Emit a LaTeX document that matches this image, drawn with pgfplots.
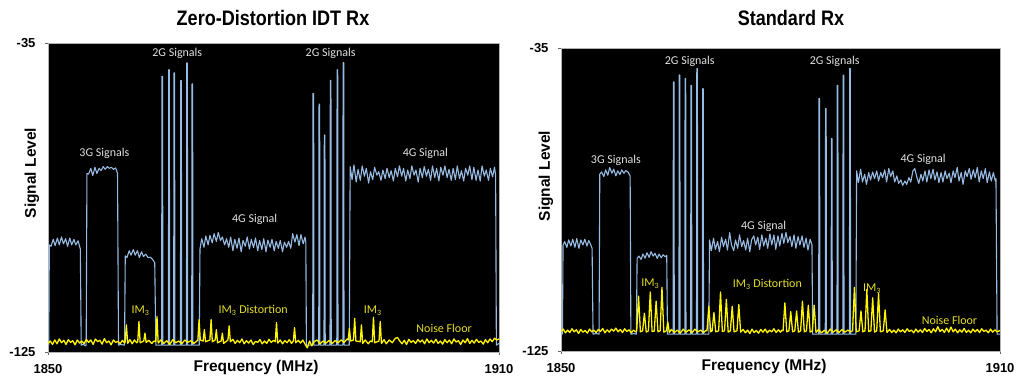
\documentclass[border=0pt]{standalone}
\usepackage{pgfplots}
\pgfplotsset{compat=1.18}
\usepackage{fontspec}
\setmainfont{Liberation Sans}
\newfontfamily\condfont{Liberation Sans}[FakeStretch=0.86]
\newfontfamily\calib{Carlito}
\definecolor{sigblue}{RGB}{150,186,226}
\definecolor{imyel}{RGB}{255,245,0}
\definecolor{labyel}{RGB}{230,222,40}
\definecolor{labgray}{RGB}{225,225,225}
\tikzset{
  glab/.style={font=\calib\fontsize{12}{12}\selectfont, text=labgray},
  ylab/.style={font=\calib\fontsize{12}{12}\selectfont, text=labyel},
}
\pgfplotsset{
  spec/.style={
    anchor=south west, scale only axis,
    xmin=1850, xmax=1910, ymin=-125, ymax=-35,
    xtick={1850,1910}, xticklabels={1850,1910},
    ytick={-125,-35}, yticklabels={-125,-35},
    axis background/.style={fill=black},
    axis line style={draw=gray!60, line width=0.8pt},
    tick align=outside, tick pos=left, major tick length=3pt,
    tick style={draw=gray!80!black, line width=0.8pt},
    ticklabel style={font=\bfseries\fontsize{13}{13}\selectfont},
    xticklabel style={yshift=-6pt},
    yticklabel style={xshift=-6pt},
    clip=false,
  },
  blueline/.style={color=sigblue, line width=1.1pt, no markers, line join=round},
  yelline/.style={color=imyel, line width=1.3pt, no markers, line join=round},
}
\begin{document}
\begin{tikzpicture}
\path[use as bounding box] (0pt,0pt) rectangle (1025pt,-375pt);
% ---------------- Left panel ----------------
\begin{axis}[spec, at={(48pt,-352pt)}, width=451pt, height=309pt]
\addplot[blueline] coordinates {
(1850,-123) (1850.1,-123) (1850.18,-93.8) (1850.4,-94.2) (1850.7,-92.2) (1850.95,-94) (1851.25,-91.8) (1851.5,-93.8) (1851.8,-91.5) (1852.05,-93.5) (1852.35,-92) (1852.6,-94.2) (1852.9,-91.8) (1853.15,-93.8) (1853.45,-92.2) (1853.7,-93.8) (1854.0,-92.6) (1854.3,-95) (1854.42,-123)
(1854.7,-122.8) (1855.0,-123.2) (1855.08,-123) (1855.18,-73) (1855.4,-73.2) (1855.7,-71.5) (1855.95,-73.6) (1856.25,-71.2) (1856.5,-73) (1856.8,-71.5) (1857.05,-72.2) (1857.35,-71) (1857.6,-71.8) (1857.9,-71.0) (1858.15,-71.5) (1858.45,-71.2) (1858.7,-71.8) (1859.0,-71.4) (1859.25,-73) (1859.38,-123)
(1859.7,-122.8) (1860.1,-123) (1860.18,-123) (1860.28,-97) (1860.5,-97.5) (1860.8,-95.5) (1861.05,-96.8) (1861.35,-95.2) (1861.6,-96.8) (1861.9,-95.5) (1862.15,-97.5) (1862.45,-95.8) (1862.7,-97.2) (1863.0,-96.5) (1863.3,-97.5) (1863.6,-97.4) (1863.9,-98) (1864.2,-99) (1864.35,-123)
(1865.12,-123) (1865.16,-44.7) (1865.24,-44.7) (1865.28,-123)
(1866.02,-123) (1866.06,-42.8) (1866.14,-42.8) (1866.18,-123)
(1866.72,-123) (1866.76,-43.7) (1866.84,-43.7) (1866.88,-123)
(1867.62,-123) (1867.66,-45.9) (1867.74,-45.9) (1867.78,-123)
(1868.42,-123) (1868.46,-40.8) (1868.54,-40.8) (1868.58,-123)
(1869.12,-123) (1869.16,-46.9) (1869.24,-46.9) (1869.28,-123)
(1870.12,-123) (1870.22,-95) (1870.45,-92) (1870.75,-94.5) (1871.0,-91.2) (1871.3,-93.8) (1871.55,-91) (1871.85,-93.2) (1872.1,-90.5) (1872.4,-92.8) (1872.65,-90.2) (1872.95,-92.5) (1873.2,-91.5) (1873.5,-93.8) (1873.75,-92) (1874.05,-94.5) (1874.3,-91.5) (1874.6,-95.5) (1874.85,-92.2) (1875.15,-94.8) (1875.4,-91.8) (1875.7,-95.8) (1875.95,-92.5) (1876.25,-94.2) (1876.5,-91.5) (1876.8,-95) (1877.05,-92.2) (1877.35,-94.6) (1877.6,-91.8) (1877.9,-95.5) (1878.15,-92.5) (1878.45,-95.2) (1878.7,-92) (1879.0,-95.8) (1879.25,-92.4) (1879.55,-94.5) (1879.8,-92.2) (1880.1,-95.5) (1880.35,-92.8) (1880.65,-94.8) (1880.9,-92.5) (1881.2,-95.8) (1881.45,-93) (1881.75,-94.5) (1882.0,-92.8) (1882.3,-94.8) (1882.55,-90.5) (1882.85,-93) (1883.1,-90.8) (1883.4,-94) (1883.65,-90.8) (1883.95,-93.5) (1884.2,-91.5) (1884.3,-93) (1884.38,-123)
(1885.22,-123) (1885.26,-49.7) (1885.34,-49.7) (1885.38,-123)
(1886.02,-123) (1886.06,-52.8) (1886.14,-52.8) (1886.18,-123)
(1886.72,-123) (1886.76,-61.8) (1886.84,-61.8) (1886.88,-123)
(1887.52,-123) (1887.56,-45.9) (1887.64,-45.9) (1887.68,-123)
(1888.42,-123) (1888.46,-42.8) (1888.54,-42.8) (1888.58,-123)
(1889.22,-123) (1889.26,-40.7) (1889.34,-40.7) (1889.38,-123)
(1890.08,-123) (1890.2,-71) (1890.45,-74.8) (1890.7,-70.5) (1891.0,-75.5) (1891.25,-71.8) (1891.55,-75) (1891.8,-70.8) (1892.1,-73.8) (1892.35,-71.5) (1892.65,-75.8) (1892.9,-72.5) (1893.2,-74.8) (1893.45,-71.2) (1893.75,-73.5) (1894.0,-72.5) (1894.3,-75) (1894.55,-72) (1894.85,-74.5) (1895.1,-71.5) (1895.4,-74.2) (1895.65,-72.2) (1895.95,-75.2) (1896.2,-71.5) (1896.5,-74) (1896.75,-70.8) (1897.05,-73.8) (1897.3,-71.5) (1897.6,-75.2) (1897.85,-72) (1898.15,-74.5) (1898.4,-70.8) (1898.7,-73.5) (1898.95,-72) (1899.25,-75.5) (1899.5,-71.5) (1899.8,-74.2) (1900.05,-71) (1900.35,-73.8) (1900.6,-71.8) (1900.9,-75) (1901.15,-70.8) (1901.45,-74.2) (1901.7,-71.5) (1902.0,-75.2) (1902.25,-71.2) (1902.55,-73.5) (1902.8,-70.8) (1903.1,-74.2) (1903.35,-71.8) (1903.65,-75) (1903.9,-71.5) (1904.2,-74.8) (1904.45,-70.8) (1904.75,-74.5) (1905.0,-72.2) (1905.3,-75.2) (1905.55,-71.5) (1905.85,-73.5) (1906.1,-70.8) (1906.4,-74.8) (1906.65,-71.2) (1906.95,-75) (1907.2,-72) (1907.5,-75.2) (1907.75,-70.8) (1908.05,-73.8) (1908.3,-72) (1908.6,-75) (1908.85,-71.5) (1909.15,-74) (1909.4,-71.2) (1909.55,-73.5) (1909.65,-123) (1910,-122.5)
};
\addplot[yelline] coordinates {
(1850,-122.5) (1850.3,-121.8) (1850.6,-122.8) (1850.9,-121.5) (1851.2,-122.6) (1851.5,-121.2) (1851.8,-122.3) (1852.1,-121.6) (1852.4,-122.8) (1852.7,-121.4) (1853.0,-122.2) (1853.3,-121.7) (1853.6,-122.9) (1853.9,-121.5) (1854.2,-122.4) (1854.5,-121.8) (1854.8,-122.6) (1855.1,-121.3) (1855.4,-122.2) (1855.7,-121.5) (1856.0,-122.8) (1856.3,-121.2) (1856.6,-122) (1856.9,-121.6) (1857.2,-122.7) (1857.5,-121.1) (1857.8,-122.3) (1858.1,-121.8) (1858.4,-122.9) (1858.7,-121.5) (1859.0,-122.2) (1859.3,-121.9) (1859.6,-122.6) (1859.9,-121.6) (1860.2,-122.4)
(1860.27,-122) (1860.43,-117.1) (1860.6,-122.5)
(1860.9,-121.4) (1861.2,-122.6) (1861.5,-121.5) (1861.8,-122.3)
(1861.94,-122) (1862.1,-116.1) (1862.26,-122.3)
(1862.74,-121.8) (1862.9,-119.5) (1863.06,-122.2)
(1863.4,-121.6) (1863.8,-122.5) (1864.1,-121.8)
(1864.34,-122) (1864.5,-114.7) (1864.66,-122.4)
(1865.0,-121.5) (1865.4,-122.5) (1865.8,-121.7) (1866.2,-122.8) (1866.6,-121.4) (1867.0,-122.3) (1867.4,-121.8) (1867.8,-122.6) (1868.2,-121.5) (1868.6,-122.2) (1869.0,-121.7) (1869.4,-122.5) (1869.8,-121.8)
(1869.94,-121.5) (1870.1,-115.6) (1870.26,-121.5)
(1870.64,-121.8) (1870.8,-118.5) (1870.96,-122)
(1871.54,-121.5) (1871.7,-115.6) (1871.86,-122)
(1872.24,-121.5) (1872.4,-118.5) (1872.56,-122.3)
(1873.04,-121.8) (1873.2,-119.5) (1873.36,-122.5)
(1873.94,-121.5) (1874.1,-117.4) (1874.26,-122)
(1874.6,-121.3) (1874.9,-122.5) (1875.2,-121.6) (1875.5,-122.3) (1875.8,-121.2) (1876.1,-122.6) (1876.4,-121.7) (1876.7,-122.4) (1877.0,-121.5) (1877.3,-122.8) (1877.6,-121.9) (1877.9,-122.2) (1878.2,-121.4) (1878.5,-122.6) (1878.8,-121.8) (1879.1,-122.5) (1879.4,-121.3) (1879.7,-122.2) (1880.0,-121.6)
(1880.24,-122) (1880.4,-116.4) (1880.56,-122.4)
(1880.9,-121.5) (1881.2,-122.6) (1881.5,-121.7) (1881.8,-122.3) (1882.1,-121.4) (1882.4,-122.5)
(1882.64,-121.8) (1882.8,-117.9) (1882.96,-122.3)
(1883.3,-121.6) (1883.6,-122.4) (1883.9,-121.5) (1884.2,-122.7) (1884.5,-123.8) (1884.8,-121.8) (1885.1,-123.2) (1885.4,-122) (1885.8,-121.5) (1886.2,-122.6) (1886.6,-121.8) (1887.0,-122.4) (1887.4,-121.6) (1887.8,-122.5) (1888.2,-121.7) (1888.6,-122.3) (1889.0,-121.5) (1889.4,-122.2) (1889.8,-121.2)
(1889.94,-121.5) (1890.1,-118.1) (1890.26,-121.8)
(1890.64,-121.5) (1890.8,-115.2) (1890.96,-121.8)
(1891.54,-122) (1891.7,-117.1) (1891.86,-122.5)
(1892.2,-121.5) (1892.6,-122.6) (1892.9,-121.8)
(1893.14,-122) (1893.3,-114.9) (1893.46,-122.3)
(1894.04,-121.8) (1894.2,-116.1) (1894.36,-122.5)
(1894.7,-121.4) (1895.0,-122.6) (1895.4,-121.5) (1895.8,-122.3) (1896.2,-121) (1896.5,-120.8) (1896.8,-121.8) (1897.1,-122.6) (1897.4,-121.6) (1897.7,-122.8) (1898.0,-121.3) (1898.3,-122.2) (1898.6,-121.7) (1898.9,-122.5) (1899.2,-121.4) (1899.5,-122.1) (1899.8,-121.5) (1900.1,-122.6) (1900.4,-121.2) (1900.7,-122.3) (1901.0,-121.6) (1901.3,-122.4) (1901.6,-121.3) (1901.9,-122.5) (1902.2,-121.8) (1902.5,-122.7) (1902.8,-121.4) (1903.1,-122.3) (1903.4,-121.5) (1903.7,-122.6) (1904.0,-121.2) (1904.3,-122.1) (1904.6,-121.7) (1904.9,-122.8) (1905.2,-121.5) (1905.5,-122.3) (1905.8,-121.1) (1906.1,-122.5) (1906.4,-121.6) (1906.7,-122.4) (1907.0,-121.3) (1907.3,-122.2) (1907.6,-121.8) (1907.9,-122.7) (1908.2,-121.4) (1908.5,-122.3) (1908.8,-121.2) (1909.1,-122) (1909.4,-121) (1909.7,-121.5) (1910,-121.2)
};
\node[glab] at (axis cs:1857.5,-67.2) {3G Signals};
\node[glab] at (axis cs:1867.2,-38.1) {2G Signals};
\node[glab] at (axis cs:1887.6,-38.1) {2G Signals};
\node[glab] at (axis cs:1877.5,-86.5) {4G Signal};
\node[glab] at (axis cs:1900.2,-67.2) {4G Signal};
\node[ylab] at (axis cs:1862.3,-112.9) {IM\textsubscript{3}};
\node[ylab] at (axis cs:1877.3,-112.9) {IM\textsubscript{3} Distortion};
\node[ylab] at (axis cs:1893.2,-112.9) {IM\textsubscript{3}};
\node[ylab] at (axis cs:1902.7,-118.2) {Noise Floor};
\end{axis}
% ---------------- Right panel ----------------
\begin{axis}[spec, at={(561pt,-351pt)}, width=439pt, height=303pt]
\addplot[blueline] coordinates {
(1850,-120) (1850.2,-120) (1850.28,-93.5) (1850.5,-92.5) (1850.8,-94.2) (1851.05,-92) (1851.35,-93.8) (1851.6,-91.8) (1851.9,-94.2) (1852.15,-91.6) (1852.45,-94.5) (1852.7,-92) (1853.0,-93.5) (1853.25,-91.8) (1853.55,-93.8) (1853.8,-92.2) (1854.05,-93.4) (1854.25,-94.5) (1854.38,-120)
(1854.8,-119.8) (1855.2,-120) (1855.3,-72.5) (1855.55,-71.8) (1855.85,-73.2) (1856.1,-71.2) (1856.4,-72.8) (1856.65,-70.5) (1856.95,-72.2) (1857.2,-71) (1857.5,-73) (1857.75,-71.5) (1858.05,-72.6) (1858.3,-71.2) (1858.6,-72.2) (1858.85,-71.4) (1859.15,-71.8) (1859.45,-73) (1859.55,-120)
(1860.0,-119.8) (1860.3,-120) (1860.4,-97.5) (1860.65,-96.8) (1860.95,-97.8) (1861.2,-96.2) (1861.5,-97.4) (1861.75,-95.8) (1862.05,-97.2) (1862.3,-95.5) (1862.6,-96.8) (1862.85,-96) (1863.15,-97.5) (1863.4,-96.2) (1863.7,-97.3) (1863.95,-96.4) (1864.25,-97) (1864.45,-96.6) (1864.55,-120)
(1865.32,-120) (1865.36,-45.1) (1865.44,-45.1) (1865.48,-120)
(1866.12,-120) (1866.16,-43.0) (1866.24,-43.0) (1866.28,-120)
(1866.92,-120) (1866.96,-44.1) (1867.04,-44.1) (1867.08,-120)
(1867.72,-120) (1867.76,-46.1) (1867.84,-46.1) (1867.88,-120)
(1868.52,-120) (1868.56,-41.1) (1868.64,-41.1) (1868.68,-120)
(1869.32,-120) (1869.36,-47.1) (1869.44,-47.1) (1869.48,-120)
(1870.2,-120) (1870.3,-92) (1870.55,-95.2) (1870.85,-91.5) (1871.1,-94.8) (1871.4,-92.5) (1871.65,-95.5) (1871.95,-91.2) (1872.2,-94) (1872.5,-91.8) (1872.75,-95) (1873.05,-89.8) (1873.3,-93.5) (1873.6,-95.2) (1873.85,-92) (1874.15,-94.5) (1874.4,-90.5) (1874.7,-94) (1874.95,-92.2) (1875.25,-95) (1875.5,-91.5) (1875.8,-95.5) (1876.05,-92) (1876.35,-90.8) (1876.6,-93.5) (1876.9,-91.2) (1877.15,-94.8) (1877.45,-90.5) (1877.7,-93.8) (1878.0,-91.5) (1878.25,-94.5) (1878.55,-90.2) (1878.8,-93.5) (1879.1,-90.5) (1879.35,-94.8) (1879.65,-90.8) (1879.9,-93.8) (1880.2,-90) (1880.45,-93) (1880.75,-89.8) (1881.0,-92.8) (1881.3,-91) (1881.55,-94) (1881.85,-90.5) (1882.1,-94.5) (1882.4,-91) (1882.65,-93.5) (1882.95,-90.8) (1883.2,-94.2) (1883.5,-91.5) (1883.75,-95) (1884.05,-91.8) (1884.3,-93.5) (1884.4,-120)
(1885.22,-120) (1885.26,-50.0) (1885.34,-50.0) (1885.38,-120)
(1886.12,-120) (1886.16,-53.0) (1886.24,-53.0) (1886.28,-120)
(1886.92,-120) (1886.96,-61.9) (1887.04,-61.9) (1887.08,-120)
(1887.72,-120) (1887.76,-46.1) (1887.84,-46.1) (1887.88,-120)
(1888.52,-120) (1888.56,-43.1) (1888.64,-43.1) (1888.68,-120)
(1889.42,-120) (1889.46,-41.1) (1889.54,-41.1) (1889.58,-120)
(1890.3,-120) (1890.4,-71.5) (1890.65,-75) (1890.95,-71) (1891.2,-74.8) (1891.5,-72.5) (1891.75,-75.5) (1892.05,-72) (1892.3,-74.2) (1892.6,-71.8) (1892.85,-73.8) (1893.15,-71.5) (1893.4,-74.5) (1893.7,-72) (1893.95,-73.5) (1894.25,-71.2) (1894.5,-74.8) (1894.8,-70.8) (1895.05,-73.2) (1895.35,-71.5) (1895.6,-74.8) (1895.9,-73) (1896.15,-75.2) (1896.45,-74.2) (1896.7,-75.8) (1897.0,-74.5) (1897.25,-75.5) (1897.55,-73.5) (1897.8,-74.8) (1898.1,-71.5) (1898.35,-70.8) (1898.65,-73.5) (1898.9,-75.2) (1899.2,-72.5) (1899.45,-74.5) (1899.75,-71.5) (1900.0,-74.8) (1900.3,-71.2) (1900.55,-73.8) (1900.85,-71) (1901.1,-74.2) (1901.4,-71.8) (1901.65,-75) (1901.95,-72) (1902.2,-74.8) (1902.5,-71.5) (1902.75,-73.8) (1903.05,-72.2) (1903.3,-75) (1903.6,-71.5) (1903.85,-73.5) (1904.15,-70.5) (1904.4,-74.5) (1904.7,-72) (1904.95,-75.5) (1905.25,-71.5) (1905.5,-73.2) (1905.8,-70.8) (1906.05,-74) (1906.35,-71.2) (1906.6,-73.5) (1906.9,-70.5) (1907.15,-74.8) (1907.45,-71.5) (1907.7,-73.8) (1908.0,-70.8) (1908.25,-75) (1908.55,-71.8) (1908.8,-74.5) (1909.1,-72) (1909.35,-74.5) (1909.45,-73.8) (1909.6,-120) (1910,-120)
};
\addplot[yelline] coordinates {
(1850,-119.2) (1850.3,-118.5) (1850.6,-119.6) (1850.9,-118.8) (1851.2,-119.5) (1851.5,-118.4) (1851.8,-119.3) (1852.1,-118.7) (1852.4,-119.8) (1852.7,-118.6) (1853.0,-119.4) (1853.3,-118.9) (1853.6,-119.7) (1853.9,-118.5) (1854.2,-119.3) (1854.5,-118.8) (1854.8,-119.5) (1855.1,-118.6) (1855.4,-119.2) (1855.7,-118.3) (1856.0,-119.6) (1856.3,-118.7) (1856.6,-119.4) (1856.9,-118.5) (1857.2,-119.1) (1857.5,-118.2) (1857.8,-119.3) (1858.1,-118.6) (1858.4,-119.5) (1858.7,-118.4) (1859.0,-119.2) (1859.3,-118.7) (1859.6,-119.6) (1859.9,-118.8) (1860.2,-119.3)
(1860.35,-119) (1860.6,-108.7) (1860.85,-119.3)
(1861.15,-119) (1861.4,-113.8) (1861.65,-119.4)
(1861.95,-119) (1862.2,-107.5) (1862.45,-119.2)
(1862.75,-119.1) (1863.0,-110.2) (1863.25,-119.3)
(1863.55,-119) (1863.8,-106.1) (1864.05,-119.4)
(1864.4,-119) (1864.6,-116.4) (1864.8,-119.5)
(1865.1,-118.6) (1865.5,-119.5) (1865.9,-118.8) (1866.3,-119.7) (1866.7,-118.5) (1867.1,-119.4) (1867.5,-118.7) (1867.9,-119.6) (1868.3,-118.5) (1868.7,-119.3) (1869.1,-118.8) (1869.5,-119.5) (1869.8,-118.9)
(1869.95,-119) (1870.2,-111.7) (1870.45,-119.3)
(1870.65,-119) (1870.9,-113.6) (1871.15,-119.3)
(1871.55,-119) (1871.8,-107.5) (1872.05,-119.2)
(1872.35,-119) (1872.6,-109.7) (1872.85,-119.4)
(1873.15,-119) (1873.4,-111.7) (1873.65,-119.3)
(1874.05,-119) (1874.3,-111.2) (1874.55,-119.4)
(1874.9,-118.6) (1875.2,-119.6) (1875.5,-118.8) (1875.8,-119.8) (1876.1,-118.5) (1876.4,-119.5) (1876.7,-118.9) (1877.0,-119.7) (1877.3,-118.6) (1877.6,-119.4) (1877.9,-118.5) (1878.2,-119.6) (1878.5,-118.8) (1878.8,-119.3) (1879.1,-118.4) (1879.4,-119.5) (1879.7,-118.7) (1880.0,-119.4) (1880.2,-118.8)
(1880.35,-119) (1880.6,-110.7) (1880.85,-119.3)
(1881.15,-119) (1881.4,-113.3) (1881.65,-119.3)
(1881.95,-119) (1882.2,-113.1) (1882.45,-119.4)
(1882.75,-119) (1883.0,-110.2) (1883.25,-119.3)
(1883.55,-119) (1883.8,-111.4) (1884.05,-119.4)
(1884.35,-119) (1884.6,-111.4) (1884.85,-119.5)
(1885.2,-118.6) (1885.6,-119.6) (1886.0,-118.8) (1886.4,-119.7) (1886.8,-118.5) (1887.2,-119.4) (1887.6,-118.7) (1888.0,-119.5) (1888.4,-118.6) (1888.8,-119.4) (1889.2,-118.8) (1889.6,-119.3)
(1889.85,-119) (1890.1,-106.1) (1890.35,-119.3)
(1890.75,-119) (1891.0,-113.1) (1891.25,-119.3)
(1891.55,-119) (1891.8,-106.7) (1892.05,-119.2)
(1892.35,-119) (1892.6,-109.2) (1892.85,-119.4)
(1893.15,-119) (1893.4,-107.9) (1893.65,-119.3)
(1894.05,-119) (1894.3,-112.8) (1894.55,-119.5)
(1894.9,-118.6) (1895.2,-119.5) (1895.5,-118.8) (1895.8,-119.6) (1896.1,-118.5) (1896.4,-119.3) (1896.7,-118.7) (1897.0,-119.5) (1897.3,-118.4) (1897.6,-119.2) (1897.9,-118.8) (1898.2,-119.6) (1898.5,-118.5) (1898.8,-119.4) (1899.1,-118.7) (1899.4,-119.5) (1899.7,-118.3) (1900.0,-119.2) (1900.3,-118.6) (1900.6,-119.6) (1900.9,-118.4) (1901.2,-119.3) (1901.5,-117.8) (1901.8,-119.2) (1902.1,-118.6) (1902.4,-119.5) (1902.7,-118.2) (1903.0,-119.4) (1903.3,-117.9) (1903.6,-119.3) (1903.9,-118.5) (1904.2,-119.6) (1904.5,-118.7) (1904.8,-119.4) (1905.1,-118.3) (1905.4,-119.5) (1905.7,-118.8) (1906.0,-119.6) (1906.3,-118.5) (1906.6,-119.3) (1906.9,-118.6) (1907.2,-119.5) (1907.5,-118.4) (1907.8,-119.2) (1908.1,-118.8) (1908.4,-119.6) (1908.7,-118.5) (1909.0,-119.4) (1909.3,-118.7) (1909.6,-119.3) (1910,-118.9)
};
\node[glab] at (axis cs:1857.5,-68.5) {3G Signals};
\node[glab] at (axis cs:1867.6,-39.0) {2G Signals};
\node[glab] at (axis cs:1887.4,-39.0) {2G Signals};
\node[glab] at (axis cs:1877.7,-88.1) {4G Signal};
\node[glab] at (axis cs:1899.5,-68.1) {4G Signal};
\node[ylab] at (axis cs:1862.2,-104.9) {IM\textsubscript{3}};
\node[ylab] at (axis cs:1878.2,-105.1) {IM\textsubscript{3} Distortion};
\node[ylab] at (axis cs:1892.5,-106.5) {IM\textsubscript{3}};
\node[ylab] at (axis cs:1903.1,-116.0) {Noise Floor};
\end{axis}
% ---------------- Titles and axis titles ----------------
\node[font=\condfont\bfseries\fontsize{21}{21}\selectfont] at (273pt,-18pt) {Zero-Distortion IDT Rx};
\node[font=\condfont\bfseries\fontsize{21}{21}\selectfont] at (791pt,-18pt) {Standard Rx};
\node[font=\bfseries\fontsize{15.5}{15.5}\selectfont] at (256pt,-367pt) {Frequency (MHz)};
\node[font=\bfseries\fontsize{15.5}{15.5}\selectfont] at (764pt,-366pt) {Frequency (MHz)};
\node[font=\bfseries\fontsize{15.5}{15.5}\selectfont, rotate=90] at (32pt,-173pt) {Signal Level};
\node[font=\bfseries\fontsize{15.5}{15.5}\selectfont, rotate=90] at (546pt,-176pt) {Signal Level};
\end{tikzpicture}
\end{document}
